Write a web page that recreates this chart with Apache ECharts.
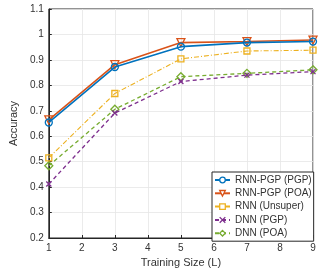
<!DOCTYPE html>
<html><head><meta charset="utf-8">
<script src="https://cdn.jsdelivr.net/npm/echarts@6/dist/echarts.min.js"></script>
<style>html,body{margin:0;padding:0;background:#fff}#c{width:333px;height:274px}</style>
</head><body><div id="c"></div>
<script>
var xValues = [1, 3, 5, 7, 9];
var seriesNames = ['RNN-PGP (PGP)', 'RNN-PGP (POA)', 'RNN (Unsuper)', 'DNN (PGP)', 'DNN (POA)'];
var rnnPgpPgp = [0.654, 0.872, 0.952, 0.968, 0.972];
var rnnPgpPoa = [0.664, 0.881, 0.968, 0.972, 0.978];
var rnnUnsuper = [0.515, 0.768, 0.904, 0.935, 0.938];
var dnnPgp = [0.412, 0.691, 0.815, 0.840, 0.854];
var dnnPoa = [0.484, 0.706, 0.834, 0.847, 0.861];
var xTicks = [1, 2, 3, 4, 5, 6, 7, 8, 9];
var yTicks = [0.2, 0.3, 0.4, 0.5, 0.6, 0.7, 0.8, 0.9, 1, 1.1];

var colors = ['#0072BD', '#D95319', '#EDB120', '#7E2F8E', '#77AC30'];
var values = [rnnPgpPgp, rnnPgpPoa, rnnUnsuper, dnnPgp, dnnPoa];
var symbols = ['circle', 'triangle', 'rect', 'path://M0,0L10,10M10,0L0,10', 'diamond'];
var rotates = [0, 180, 0, 0, 0];
var sizes = [7, 8, 6, 5, 8];
var dashes = ['solid', 'solid', [5, 2, 1, 2], [4, 3], [4, 3]];
var widths = [1.6, 1.6, 1.1, 1.3, 1.3];

function pairs(v) { return xValues.map(function (x, i) { return [x, v[i]]; }); }

var series = seriesNames.map(function (n, i) {
  return {
    name: n, type: 'line', data: pairs(values[i]),
    symbol: symbols[i], symbolSize: sizes[i], symbolRotate: rotates[i],
    showAllSymbol: true, z: 10 - i,
    lineStyle: { color: colors[i], width: widths[i], type: dashes[i] },
    itemStyle: { color: 'transparent', borderColor: colors[i], borderWidth: 1.3 },
    emphasis: { disabled: true }
  };
});

var legendData = seriesNames.map(function (n, i) {
  return {
    name: n,
    itemStyle: { color: '#fff', borderColor: colors[i], borderWidth: 1.3 }
  };
});

var chart = echarts.init(document.getElementById('c'));
chart.setOption({
  animation: false,
  textStyle: { fontFamily: 'Liberation Sans, Arial, sans-serif' },
  grid: { left: 37, right: 20, top: 9, bottom: 36, show: true, borderColor: '#262626', borderWidth: 1, backgroundColor: '#fff' },
  xAxis: {
    type: 'value', min: 1, max: 9, interval: 1,
    name: 'Training Size (L)', nameLocation: 'middle', nameGap: 18,
    nameTextStyle: { fontSize: 11, color: '#333' },
    axisLine: { show: true, lineStyle: { color: '#262626' } },
    axisTick: { inside: true, length: 3, lineStyle: { color: '#262626' } },
    axisLabel: { fontSize: 10, color: '#333', margin: 5 },
    splitLine: { show: true, lineStyle: { color: '#e6e6e6', width: 0.8 } }
  },
  yAxis: {
    type: 'value', min: 0.2, max: 1.1, interval: 0.1,
    name: 'Accuracy', nameLocation: 'middle', nameGap: 24,
    nameTextStyle: { fontSize: 11, color: '#333' },
    axisLine: { show: true, lineStyle: { color: '#262626' } },
    axisTick: { inside: true, length: 3, lineStyle: { color: '#262626' } },
    axisLabel: { fontSize: 10, color: '#333', margin: 5, formatter: function (v) { return String(+v.toFixed(1)); } },
    splitLine: { show: true, lineStyle: { color: '#e6e6e6', width: 0.8 } }
  },
  legend: {
    data: legendData, orient: 'vertical', left: 212, top: 172,
    itemWidth: 15, itemHeight: 7, itemGap: 3.3,
    padding: [3, 2, 3, 2],
    backgroundColor: '#fff', borderColor: '#262626', borderWidth: 1,
    textStyle: { fontSize: 10, color: '#333' }
  },
  series: series
});
</script></body></html>
